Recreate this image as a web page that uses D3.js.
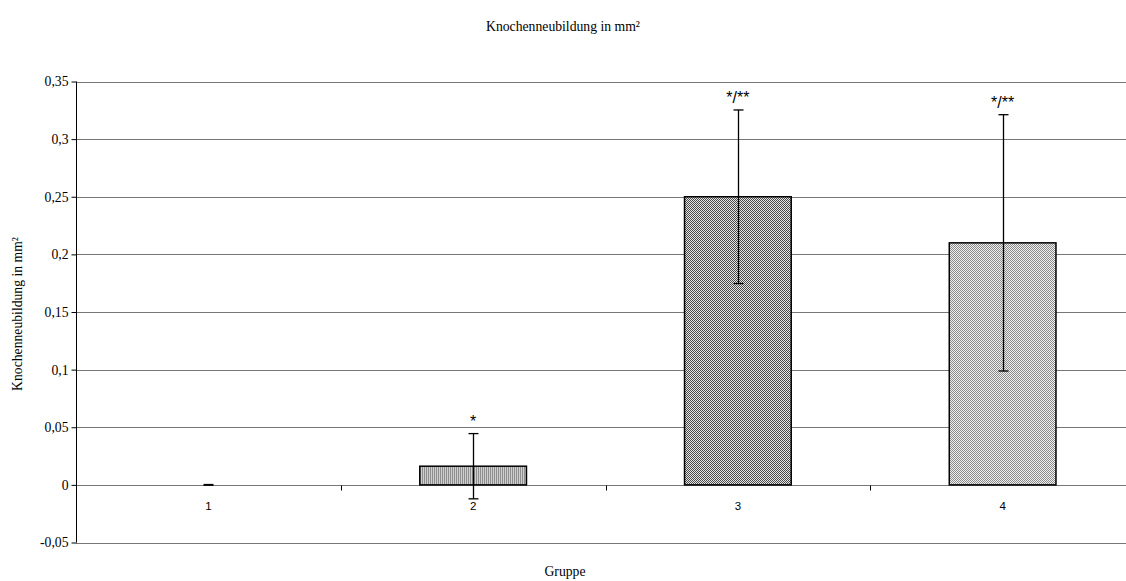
<!DOCTYPE html>
<html>
<head>
<meta charset="utf-8">
<script src="https://cdn.jsdelivr.net/npm/d3@7"></script>
<style>
  html, body { margin: 0; padding: 0; background: #fff; }
  svg { display: block; }
</style>
</head>
<body>
<svg id="chart" width="1126" height="581"></svg>
<script>
// Data
const groups = ["1", "2", "3", "4"];
const means = [0, 0.0162, 0.25, 0.21];
const errors = [0, 0.0283, 0.0753, 0.1112];
const marks = ["", "*", "*/**", "*/**"];
const yTicks = [-0.05, 0, 0.05, 0.1, 0.15, 0.2, 0.25, 0.3, 0.35];

const svg = d3.select("#chart");
const margin = { left: 76, right: 1135, top: 81.5, bottom: 542.5 };

const x = d3.scaleBand().domain(groups).range([margin.left, margin.right]).paddingInner(0).paddingOuter(0);
const y = d3.scaleLinear().domain([-0.05, 0.35]).range([margin.bottom, margin.top]);

const fmt = v => (Math.round(v * 100) / 100).toString().replace(".", ",");
const serif = "'Liberation Serif', 'Times New Roman', serif";
const sans = "'Liberation Sans', Arial, sans-serif";

// Fill patterns
const defs = svg.append("defs");
const p2 = defs.append("pattern").attr("id", "pat2").attr("patternUnits", "userSpaceOnUse").attr("width", 2).attr("height", 2);
p2.append("rect").attr("width", 2).attr("height", 2).attr("fill", "#cfcfcf");
p2.append("rect").attr("width", 1).attr("height", 2).attr("fill", "#8e8e8e");

const p3 = defs.append("pattern").attr("id", "pat3").attr("patternUnits", "userSpaceOnUse").attr("width", 2).attr("height", 2);
p3.append("rect").attr("width", 2).attr("height", 2).attr("fill", "#e6e6e6");
p3.append("rect").attr("x", 0).attr("y", 0).attr("width", 1).attr("height", 1).attr("fill", "#4a4a4a");
p3.append("rect").attr("x", 1).attr("y", 1).attr("width", 1).attr("height", 1).attr("fill", "#4a4a4a");

const p4 = defs.append("pattern").attr("id", "pat4").attr("patternUnits", "userSpaceOnUse").attr("width", 2).attr("height", 2);
p4.append("rect").attr("width", 2).attr("height", 2).attr("fill", "#f0f0f0");
p4.append("rect").attr("x", 0).attr("y", 0).attr("width", 1).attr("height", 1).attr("fill", "#8a8a8a");
p4.append("rect").attr("x", 1).attr("y", 1).attr("width", 1).attr("height", 1).attr("fill", "#8a8a8a");

const fills = ["#999", "url(#pat2)", "url(#pat3)", "url(#pat4)"];

// Gridlines
svg.append("g").selectAll("line").data(yTicks).join("line")
  .attr("x1", margin.left).attr("x2", 1126)
  .attr("y1", d => Math.round(y(d)) + 0.5).attr("y2", d => Math.round(y(d)) + 0.5)
  .attr("stroke", "#777").attr("stroke-width", 1);

// Y axis
const yAxis = d3.axisLeft(y).tickValues(yTicks).tickFormat(fmt).tickSize(5).tickPadding(3);
const gy = svg.append("g").attr("transform", `translate(${margin.left + 0.5},0)`).call(yAxis);
gy.select(".domain").attr("stroke", "#000").attr("d", `M0,${y(0.35)}V${y(-0.05)}`);
gy.selectAll(".tick line").attr("stroke", "#000");
gy.selectAll(".tick text").attr("font-family", serif).attr("font-size", 13.7).attr("fill", "#000");

// X axis on the zero line
const gx = svg.append("g").attr("transform", `translate(0,${Math.round(y(0)) + 0.5})`);
gx.selectAll("line.sep").data(groups.slice(1)).join("line").attr("class", "sep")
  .attr("x1", d => Math.round(x(d)) + 0.5).attr("x2", d => Math.round(x(d)) + 0.5)
  .attr("y1", 0).attr("y2", 5).attr("stroke", "#000");
gx.selectAll("text").data(groups).join("text")
  .attr("x", d => x(d) + x.bandwidth() / 2).attr("y", 24)
  .attr("text-anchor", "middle").attr("font-family", sans)
  .attr("font-size", 11.5).attr("fill", "#000").text(d => d);

// Bars (group 1 has a zero mean, so no bar is drawn for it)
const barData = groups.map((g, i) => ({ g, v: means[i], i })).filter(d => d.v !== 0);
const bw = x.bandwidth() * 0.403;
svg.append("g").selectAll("rect").data(barData)
  .join("rect")
  .attr("x", d => x(d.g) + x.bandwidth() / 2 - bw / 2)
  .attr("y", d => y(d.v))
  .attr("width", bw)
  .attr("height", d => y(0) - y(d.v))
  .attr("fill", d => fills[d.i])
  .attr("stroke", "#000").attr("stroke-width", 1.5);

// Error bars
const eb = svg.append("g").attr("stroke", "#000").attr("stroke-width", 1.3);
groups.forEach((g, i) => {
  const cx = Math.round(x(g) + x.bandwidth() / 2) + 0.5;
  const hi = y(means[i] + errors[i]), lo = y(means[i] - errors[i]);
  eb.append("line").attr("x1", cx).attr("x2", cx).attr("y1", hi).attr("y2", lo);
  eb.append("line").attr("x1", cx - 5).attr("x2", cx + 5).attr("y1", hi).attr("y2", hi).attr("stroke-width", i === 0 ? 2 : 1.3);
  if (i > 0) eb.append("line").attr("x1", cx - 5).attr("x2", cx + 5).attr("y1", lo).attr("y2", lo);
});

// Significance marks
svg.append("g").selectAll("text").data(groups.map((g, i) => ({ g, i }))).join("text")
  .attr("x", d => x(d.g) + x.bandwidth() / 2)
  .attr("y", d => y(means[d.i] + errors[d.i]) - 7)
  .attr("text-anchor", "middle")
  .attr("font-family", sans).attr("font-size", 16).attr("fill", "#000")
  .text(d => marks[d.i]);

// Titles
svg.append("text").attr("x", 563).attr("y", 31).attr("text-anchor", "middle")
  .attr("font-family", serif).attr("font-size", 13.7)
  .text("Knochenneubildung in mm²");
svg.append("text").attr("x", 565).attr("y", 576).attr("text-anchor", "middle")
  .attr("font-family", serif).attr("font-size", 13.7)
  .text("Gruppe");
svg.append("text").attr("transform", `translate(22,${(y(0.35) + y(-0.05)) / 2 + 2}) rotate(-90)`)
  .attr("text-anchor", "middle")
  .attr("font-family", serif).attr("font-size", 13.7)
  .text("Knochenneubildung  in mm²");
</script>
</body>
</html>
